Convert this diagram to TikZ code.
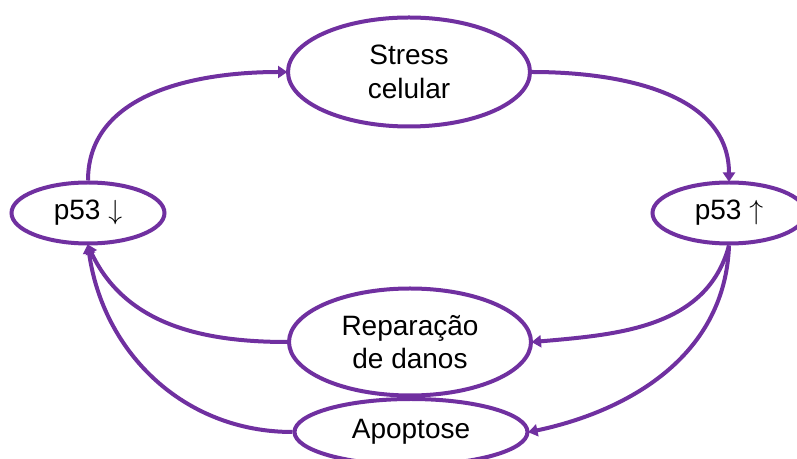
\documentclass[tikz,border=0pt]{standalone}
\usepackage{fontspec}
\setmainfont{Liberation Sans}
\usetikzlibrary{shapes.geometric,arrows.meta}

\definecolor{cyclepurple}{RGB}{112,48,160}

\tikzset{
    stage/.style={ellipse, draw=cyclepurple, line width=3pt, inner sep=0pt,
        align=center, font=\fontsize{21}{25}\selectfont},
    flow/.style={draw=cyclepurple, line width=3pt,
        -{Triangle[length=7pt,width=9pt]}, shorten >=-1pt}
}

\begin{document}
\begin{tikzpicture}[x=0.75pt, y=-0.75pt]
            % Page frame
            \useasboundingbox (0,0) rectangle (797,459);

            % Define stages
            \node[stage, minimum width=181.5pt, minimum height=81.75pt] (stress) at (409,72) {Stress\\celular};
            \node[stage, minimum width=114.75pt, minimum height=45.75pt] (low) at (88,213) {p53 $\downarrow$};
            \node[stage, minimum width=114.75pt, minimum height=45.75pt] (high) at (729,213) {p53 $\uparrow$};
            \node[stage, minimum width=181.5pt, minimum height=80.25pt] (repair) at (410,342) {Reparação\\de danos};
            \node[stage, minimum width=174.75pt, minimum height=49.5pt] (apop) at (411,432) {Apoptose};

            % Draw upper arcs
            \draw[flow] (low.north) to[out=90, in=180] (stress.west);
            \draw[flow] (stress.east) to[out=0, in=90] (high.north);

            % Draw arcs out of p53 up
            \draw[flow] (high.south) to[out=-105, in=5] (repair.east);
            \draw[flow] (high.south) to[out=-92, in=12] (apop.east);

            % Draw arcs back to p53 down
            \draw[flow] (repair.west) to[out=180, in=-65] (low.south);
            \draw[flow] (apop.west) to[out=180, in=-82] (low.south);
        \end{tikzpicture}
\end{document}
